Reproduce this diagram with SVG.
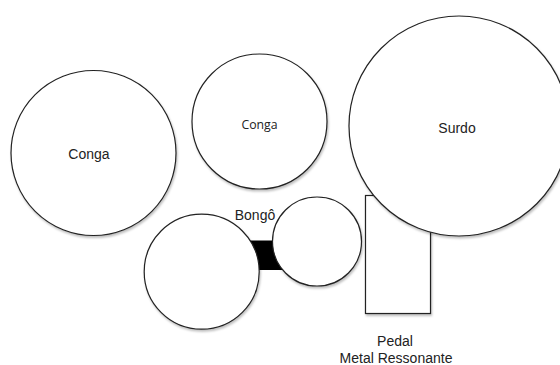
<svg xmlns="http://www.w3.org/2000/svg" width="560" height="365" viewBox="0 0 560 365">
<defs>
<filter id="sh" x="-10%" y="-10%" width="125%" height="125%">
<feDropShadow dx="1" dy="2" stdDeviation="1.2" flood-color="#000" flood-opacity="0.25"/>
</filter>
<style>
.s{fill:#fff;stroke:#222;stroke-width:1.2;filter:url(#sh)}
.t{font-family:"Liberation Sans",Arial,sans-serif;font-size:14px;fill:#222;text-anchor:middle}
.t2{font-family:"Open Sans","DejaVu Sans",sans-serif;font-size:12.3px;fill:#222;text-anchor:middle}
</style>
</defs>
<rect width="560" height="365" fill="#fff"/>
<g id="conga-left">
<circle class="s" cx="93.5" cy="153" r="82.5"/>
<text class="t" x="89" y="159">Conga</text>
</g>
<g id="conga-middle">
<circle class="s" cx="259.5" cy="121.5" r="67.5"/>
<text class="t2" x="259.5" y="129">Conga</text>
</g>
<g id="pedal">
<rect class="s" x="365.5" y="195.5" width="65" height="118"/>
<text class="t" x="395" y="346">Pedal</text>
<text class="t" x="396" y="362.5" font-size="13.5">Metal Ressonante</text>
</g>
<g id="surdo">
<circle class="s" cx="459" cy="126" r="110"/>
<text class="t" x="457" y="133">Surdo</text>
</g>
<g id="bongo">
<rect x="250" y="240.5" width="32" height="29.5" fill="#000"/>
<circle class="s" cx="201.7" cy="271.7" r="57.5"/>
<circle class="s" cx="317" cy="241.5" r="44.5"/>
<text class="t" x="255" y="220">Bongô</text>
</g>
<g id="connectors"></g>
</svg>
